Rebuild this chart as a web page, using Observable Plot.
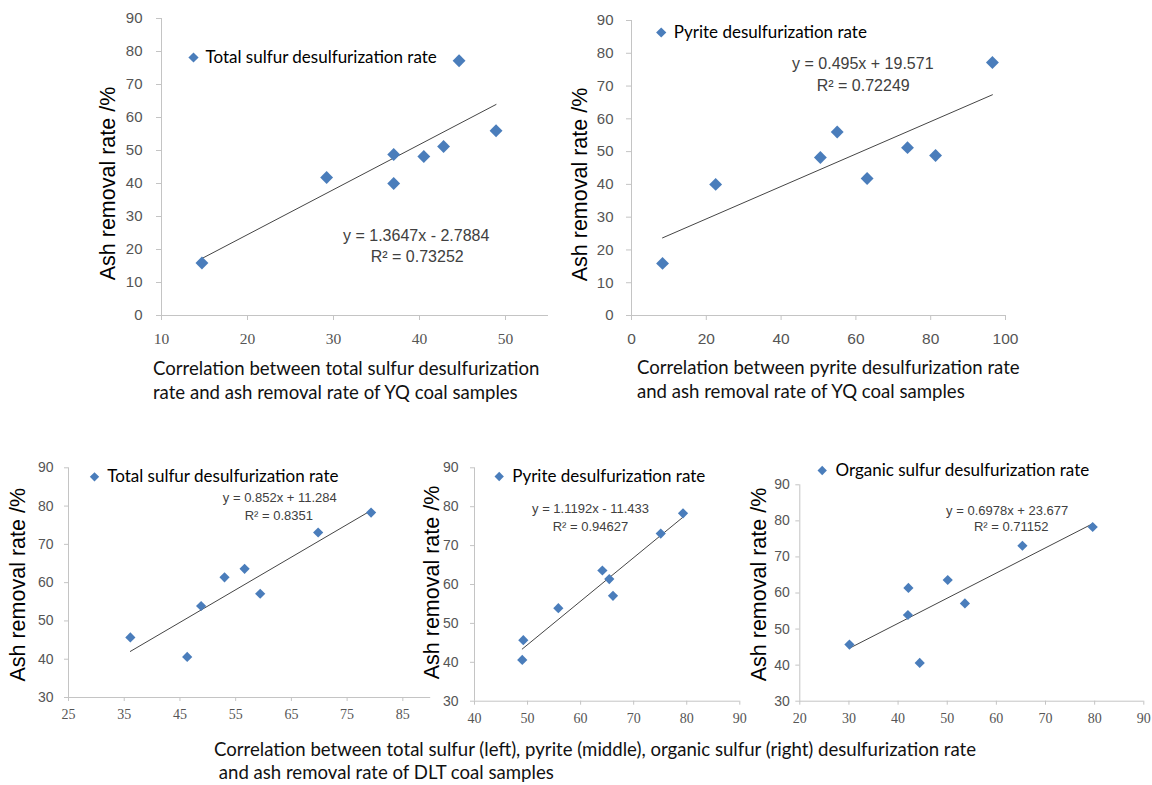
<!DOCTYPE html>
<html>
<head>
<meta charset="utf-8">
<script src="https://cdn.jsdelivr.net/npm/d3@7"></script>
<script src="https://cdn.jsdelivr.net/npm/@observablehq/plot@0.6"></script>
<style>
  body { margin: 0; background: #fff; }
  #fig { position: relative; width: 1152px; height: 785px; overflow: hidden; background: #fff; }
  .panel { position: absolute; }
  .panel svg { overflow: visible; }
  .cap { position: absolute; font-family: Lato, "Open Sans", sans-serif; font-size: 18.6px; line-height: 24px; color: #111; white-space: pre; }
</style>
</head>
<body>
<div id="fig"></div>
<script>
// ---------------- DATA ----------------
// YQ coal samples
const yqAsh      = [15.9, 41.8, 48.8, 40.0, 48.2, 51.2, 77.2, 56.0];
const yqTotalS   = [14.7, 29.2, 37.0, 37.0, 40.5, 42.8, 44.6, 48.9];
const yqPyrite   = [8.3, 63.0, 81.3, 22.5, 50.5, 73.8, 96.5, 55.0];
// DLT coal samples
const dltAsh     = [45.7, 40.6, 53.9, 61.4, 63.6, 57.1, 73.1, 78.3];
const dltTotalS  = [36.1, 46.3, 48.8, 53.0, 56.6, 59.4, 69.8, 79.3];
const dltPyrite  = [49.2, 49.0, 55.8, 65.4, 64.1, 66.1, 75.1, 79.3];
const dltOrganic = [30.1, 44.4, 42.0, 42.1, 50.1, 53.6, 65.3, 79.6];

// fitted trend lines (slope, intercept) and labels
const slopes     = [1.3647, 0.495, 0.852, 1.1192, 0.6978];
const intercepts = [-2.7884, 19.571, 11.284, -11.433, 23.677];
const eqLabels   = ["y = 1.3647x - 2.7884", "y = 0.495x + 19.571", "y = 0.852x + 11.284", "y = 1.1192x - 11.433", "y = 0.6978x + 23.677"];
const r2Labels   = ["R\u00b2 = 0.73252", "R\u00b2 = 0.72249", "R\u00b2 = 0.8351", "R\u00b2 = 0.94627", "R\u00b2 = 0.71152"];
const seriesNames = ["Total sulfur desulfurization rate", "Pyrite desulfurization rate", "Total sulfur desulfurization rate", "Pyrite desulfurization rate", "Organic sulfur desulfurization rate"];
const yLabel = "Ash removal rate /%";

// axis ticks
const xTicks1 = [10, 20, 30, 40, 50];
const xTicks2 = [0, 20, 40, 60, 80, 100];
const xTicks3 = [25, 35, 45, 55, 65, 75, 85];
const xTicks4 = [40, 50, 60, 70, 80, 90];
const xTicks5 = [20, 30, 40, 50, 60, 70, 80, 90];
const yTicksTop = [0, 10, 20, 30, 40, 50, 60, 70, 80, 90];
const yTicksBottom = [30, 40, 50, 60, 70, 80, 90];

const captions = [
  "Correlation between total sulfur desulfurization\nrate and ash removal rate of YQ coal samples",
  "Correlation between pyrite desulfurization rate\nand ash removal rate of YQ coal samples",
  "Correlation between total sulfur (left), pyrite (middle), organic sulfur (right) desulfurization rate\n and ash removal rate of DLT coal samples"
];

// ---------------- LAYOUT ----------------
const SANS = "'Liberation Sans', Arial, sans-serif";
const SERIF = "'Liberation Serif', 'Times New Roman', serif";
const LEG = "Lato, 'Open Sans', sans-serif";
const BLUE = "#4a7dbb";

const panels = [
  { x: yqTotalS, y: yqAsh, xDomain: [10, 55], yDomain: [0, 90], xTicks: xTicks1, yTicks: yTicksTop,
    box: {left: 0, top: 0, w: 570, h: 350}, frame: {l: 161, r: 548, t: 18, b: 315},
    xFont: SERIF, xFontSize: 15.5, yFontSize: 15, tick: 5, xPad: 12, yPad: 14, r: 5.8, legR: 4.6, legFont: 17, eqFont: 16,
    yLab: [-53, 165], leg: [32, 39, 44], eq: [254.7, 217], r2: [255.7, 238.7] },
  { x: yqPyrite, y: yqAsh, xDomain: [0, 100], yDomain: [0, 90], xTicks: xTicks2, yTicks: yTicksTop,
    box: {left: 570, top: 0, w: 582, h: 350}, frame: {l: 631, r: 1005, t: 20, b: 315},
    xFont: SANS, xFontSize: 15.5, yFontSize: 15, tick: 5, xPad: 12, yPad: 13, r: 5.8, legR: 4.6, legFont: 17, eqFont: 16,
    yLab: [-51.5, 164], leg: [29.7, 12, 42.3], eq: [231.3, 43], r2: [231.7, 65] },
  { x: dltTotalS, y: dltAsh, xDomain: [25, 90], yDomain: [30, 90], xTicks: xTicks3, yTicks: yTicksBottom,
    box: {left: 0, top: 440, w: 440, h: 300}, frame: {l: 68, r: 430.2, t: 467.3, b: 697},
    xFont: SERIF, xFontSize: 14, yFontSize: 14, tick: 4, xPad: 8, yPad: 11, r: 4.6, legR: 4.2, legFont: 17, eqFont: 13,
    yLab: [-50, 117], leg: [26, 9, 38.7], eq: [211.3, 29.7], r2: [210.3, 48] },
  { x: dltPyrite, y: dltAsh, xDomain: [40, 90], yDomain: [30, 90], xTicks: xTicks4, yTicks: yTicksBottom,
    box: {left: 415, top: 440, w: 335, h: 300}, frame: {l: 474, r: 739.3, t: 467.3, b: 700.7},
    xFont: SERIF, xFontSize: 14, yFontSize: 14, tick: 4, xPad: 8, yPad: 12, r: 4.6, legR: 4.2, legFont: 17, eqFont: 13,
    yLab: [-42.5, 114.7], leg: [24.7, 8.7, 37.7], eq: [116, 41], r2: [116, 58.7] },
  { x: dltOrganic, y: dltAsh, xDomain: [20, 90], yDomain: [30, 90], xTicks: xTicks5, yTicks: yTicksBottom,
    box: {left: 750, top: 440, w: 402, h: 300}, frame: {l: 799.3, r: 1143.3, t: 484.3, b: 700.7},
    xFont: SERIF, xFontSize: 14, yFontSize: 14, tick: 4, xPad: 8, yPad: 6, r: 4.6, legR: 4.2, legFont: 17, eqFont: 13,
    yLab: [-40.8, 99.7], leg: [22.4, -14.3, 35.7], eq: [207.4, 25.7], r2: [211.4, 41.7] }
];

const capBoxes = [ {left: 153, top: 356}, {left: 637, top: 355}, {left: 214, top: 738} ];

// ---------------- DRAW ----------------
const fig = document.getElementById("fig");

panels.forEach((p, i) => {
  const data = p.x.map((x, k) => ({x, y: p.y[k]}));
  const [x0, x1] = d3.extent(p.x);
  const fit = [x0, x1].map(x => ({x, y: slopes[i] * x + intercepts[i]}));
  const B = p.box, F = p.frame;
  const ta = {frameAnchor: "top-left"};
  const plot = Plot.plot({
    width: B.w, height: B.h,
    marginLeft: F.l - B.left, marginRight: B.left + B.w - F.r,
    marginTop: F.t - B.top, marginBottom: B.top + B.h - F.b,
    x: {domain: p.xDomain},
    y: {domain: p.yDomain},
    style: {background: "transparent", fontFamily: SANS, overflow: "visible"},
    marks: [
      Plot.ruleY([p.yDomain[0]], {stroke: "#c4c4c4", strokeWidth: 1}),
      Plot.ruleX([p.xDomain[0]], {stroke: "#c4c4c4", strokeWidth: 1}),
      Plot.axisX({ticks: p.xTicks, tickFormat: d => String(d), tickSize: p.tick, tickPadding: p.xPad,
        stroke: "#c4c4c4", fill: "#555", fontSize: p.xFontSize, fontFamily: p.xFont, label: null}),
      Plot.axisY({ticks: p.yTicks, tickFormat: d => String(d), tickSize: p.tick, tickPadding: p.yPad,
        stroke: "#c4c4c4", fill: "#555", fontSize: p.yFontSize, fontFamily: SANS, label: null}),
      Plot.line(fit, {x: "x", y: "y", stroke: "#454545", strokeWidth: 1}),
      Plot.dot(data, {x: "x", y: "y", symbol: "diamond2", r: p.r, fill: BLUE, stroke: "none"}),
      // y label
      Plot.text([yLabel], {...ta, text: d => d, rotate: -90, textAnchor: "middle", lineAnchor: "middle",
        dx: p.yLab[0], dy: p.yLab[1], fontSize: 21.5, fontFamily: SANS, fill: "#000"}),
      // legend
      Plot.dot([seriesNames[i]], {...ta, symbol: "diamond2", r: p.legR, fill: BLUE, stroke: "none",
        dx: p.leg[0], dy: p.leg[1]}),
      Plot.text([seriesNames[i]], {...ta, text: d => d, textAnchor: "start", lineAnchor: "middle",
        dx: p.leg[2], dy: p.leg[1], fontSize: p.legFont, fontFamily: LEG, fill: "#000"}),
      // equation
      Plot.text([eqLabels[i]], {...ta, text: d => d, textAnchor: "middle", lineAnchor: "middle",
        dx: p.eq[0], dy: p.eq[1], fontSize: p.eqFont, fontFamily: SANS, fill: "#404040"}),
      Plot.text([r2Labels[i]], {...ta, text: d => d, textAnchor: "middle", lineAnchor: "middle",
        dx: p.r2[0], dy: p.r2[1], fontSize: p.eqFont, fontFamily: SANS, fill: "#404040"})
    ]
  });
  const div = document.createElement("div");
  div.className = "panel";
  div.style.left = B.left + "px";
  div.style.top = B.top + "px";
  div.appendChild(plot);
  fig.appendChild(div);
});

captions.forEach((c, i) => {
  const d = document.createElement("div");
  d.className = "cap";
  d.style.left = capBoxes[i].left + "px";
  d.style.top = capBoxes[i].top + "px";
  if (i === 2) d.style.lineHeight = "23px";
  d.textContent = c;
  fig.appendChild(d);
});
</script>
</body>
</html>
